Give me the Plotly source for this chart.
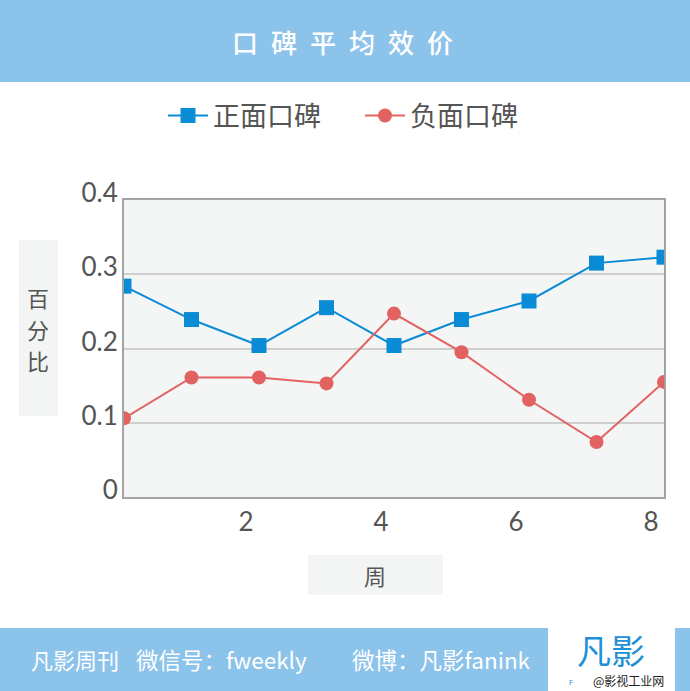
import plotly.graph_objects as go

weeks = [0, 1, 2, 3, 4, 5, 6, 7, 8]
positive = [0.284, 0.239, 0.204, 0.255, 0.204, 0.239, 0.264, 0.315, 0.323]
negative = [0.106, 0.161, 0.161, 0.153, 0.247, 0.195, 0.131, 0.074, 0.155]
ytick_vals = [0, 0.1, 0.2, 0.3, 0.4]
ytick_text = ["0", "0.1", "0.2", "0.3", "0.4"]
xtick_vals = [2, 4, 6, 8]
xtick_text = ["2", "4", "6", "8"]

W, H = 690, 691
L, R, T, B = 124, 26, 200, 194
PW, PH = W - L - R, H - T - B


def px(x):
    return (x - L) / PW


def py(y):
    return (H - B - y) / PH


BLUE = "#0A8BD6"
RED = "#E26262"
BAND = "#8CC3EA"
CJK = "Noto Sans CJK SC"

fig = go.Figure()
fig.add_trace(go.Scatter(
    x=weeks, y=positive, name="正面口碑", mode="lines+markers",
    line=dict(color=BLUE, width=2),
    marker=dict(symbol="square", size=15, color=BLUE),
))
fig.add_trace(go.Scatter(
    x=weeks, y=negative, name="负面口碑", mode="lines+markers",
    line=dict(color=RED, width=2),
    marker=dict(symbol="circle", size=14, color=RED),
))

shapes = [
    dict(type="rect", xref="paper", yref="paper", x0=px(0), x1=px(690),
         y0=py(82), y1=py(0), fillcolor=BAND, line_width=0, layer="below"),
    dict(type="rect", xref="paper", yref="paper", x0=px(0), x1=px(548),
         y0=py(691), y1=py(628), fillcolor=BAND, line_width=0, layer="below"),
    dict(type="rect", xref="paper", yref="paper", x0=px(675), x1=px(690),
         y0=py(691), y1=py(628), fillcolor=BAND, line_width=0, layer="below"),
    dict(type="rect", xref="paper", yref="paper", x0=px(19), x1=px(58),
         y0=py(416), y1=py(240), fillcolor="#F3F5F4", line_width=0, layer="below"),
    dict(type="rect", xref="paper", yref="paper", x0=px(308), x1=px(443),
         y0=py(595), y1=py(555), fillcolor="#F3F5F4", line_width=0, layer="below"),
]


def ann(text, x, y, size, color, family=CJK, xanchor="center", weight=None):
    f = dict(family=family, size=size, color=color)
    if weight:
        f["weight"] = weight
    return dict(text=text, x=px(x), y=py(y), xref="paper", yref="paper",
                showarrow=False, xanchor=xanchor, yanchor="middle", font=f)


annotations = [
    ann("口\u2002碑\u2002平\u2002均\u2002效\u2002价", 342, 41, 26, "white", weight=500),
    ann("百", 38, 297, 22, "#555555"),
    ann("分", 38, 329, 22, "#555555"),
    ann("比", 38, 360, 22, "#555555"),
    ann("周", 375, 575, 22, "#555555"),
    ann("凡影周刊", 29, 659, 22, "white", xanchor="left"),
    ann("微信号：fweekly", 134, 659, 22.5, "white", xanchor="left"),
    ann("微博：凡影fanink", 350, 659, 22.5, "white", xanchor="left"),
    ann("凡影", 611, 649, 34, "#1E90D8"),
    ann("F", 571, 683, 7, "#1E90D8", family="DejaVu Sans"),
    ann("@影视工业网", 628, 680, 12, "#222222"),
]

fig.update_layout(
    width=W, height=H,
    margin=dict(l=L, r=R, t=T, b=B, pad=0),
    paper_bgcolor="white",
    plot_bgcolor="#F4F5F5",
    showlegend=True,
    legend=dict(orientation="h", x=px(163), xanchor="left", y=py(116), yanchor="middle",
                font=dict(family=CJK, size=27, color="#555555"),
                itemwidth=40, entrywidth=142, entrywidthmode="pixels",
                bgcolor="rgba(0,0,0,0)"),
    shapes=shapes,
    annotations=annotations,
)

fig.update_xaxes(
    range=[0, 8], tickvals=xtick_vals, ticktext=xtick_text,
    showgrid=False, zeroline=False,
    showline=True, linecolor="#A3A3A3", linewidth=2, mirror=True,
    ticks="", ticklabelstandoff=1, ticklabelshift=-13,
    tickfont=dict(family="Lato", size=26, color="#555555"),
)
fig.update_yaxes(
    range=[0, 0.4], tickvals=ytick_vals, ticktext=ytick_text,
    showgrid=True, gridcolor="#CFCFCF", gridwidth=1.5, zeroline=False,
    showline=True, linecolor="#A3A3A3", linewidth=2, mirror=True,
    ticks="", ticklabelstandoff=-1, ticklabelshift=-7,
    tickfont=dict(family="Lato", size=26, color="#555555"),
)

fig.write_html("out.html", config={"displayModeBar": False},
               post_script="document.body.style.margin='0';")
